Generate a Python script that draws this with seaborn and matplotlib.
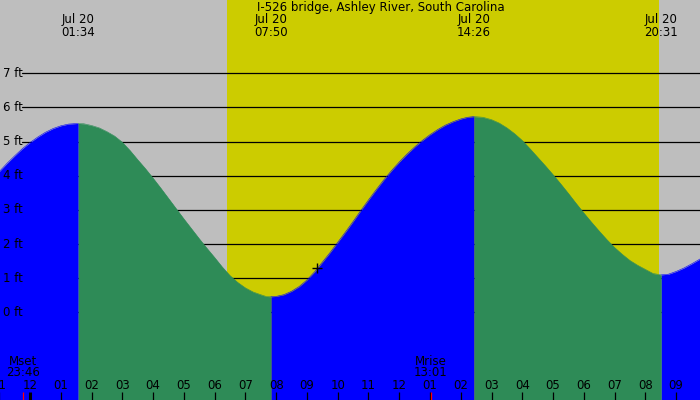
import numpy as np
import matplotlib
matplotlib.use("Agg")
import matplotlib.pyplot as plt
import pandas as pd
import seaborn as sns

# --- data (hours since midnight, feet) ---
title = "I-526 bridge, Ashley River, South Carolina"
date_label = "Jul 20"

extreme_times = ["01:34", "07:50", "14:26", "20:31"]

seg_hours = [
    [-1.0, -0.75, -0.5, -0.25, 0.0, 0.25, 0.5, 0.75, 1.0, 1.25, 1.567],
    [1.567, 1.75, 2.0, 2.25, 2.5, 2.75, 3.0, 3.25, 3.5, 3.75, 4.0, 4.25, 4.5, 4.75,
     5.0, 5.25, 5.5, 5.75, 6.0, 6.25, 6.5, 6.75, 7.0, 7.25, 7.5, 7.67, 7.833],
    [7.833, 8.0, 8.25, 8.5, 8.75, 9.0, 9.25, 9.5, 9.75, 10.0, 10.25, 10.5, 10.75,
     11.0, 11.25, 11.5, 11.75, 12.0, 12.25, 12.5, 12.75, 13.0, 13.25, 13.5, 13.75,
     14.0, 14.22, 14.433],
    [14.433, 14.72, 15.0, 15.25, 15.5, 15.75, 16.0, 16.25, 16.5, 16.75, 17.0, 17.25,
     17.5, 17.75, 18.0, 18.25, 18.5, 18.75, 19.0, 19.25, 19.5, 19.75, 20.0, 20.25, 20.517],
    [20.517, 20.75, 21.0, 21.25, 21.5, 21.75, 22.0],
]
seg_ft = [
    [4.12, 4.36, 4.58, 4.79, 4.97, 5.13, 5.27, 5.38, 5.46, 5.51, 5.53],
    [5.53, 5.52, 5.47, 5.40, 5.29, 5.16, 4.98, 4.74, 4.47, 4.21, 3.93, 3.64, 3.34, 3.04,
     2.74, 2.45, 2.16, 1.88, 1.61, 1.33, 1.08, 0.88, 0.72, 0.60, 0.52, 0.47, 0.46],
    [0.46, 0.47, 0.52, 0.62, 0.76, 0.95, 1.19, 1.47, 1.75, 2.05, 2.35, 2.66, 2.98,
     3.29, 3.59, 3.88, 4.15, 4.40, 4.63, 4.84, 5.03, 5.20, 5.35, 5.48, 5.58,
     5.66, 5.71, 5.73],
    [5.73, 5.71, 5.64, 5.54, 5.40, 5.23, 5.03, 4.79, 4.54, 4.29, 4.03, 3.76,
     3.48, 3.19, 2.91, 2.64, 2.38, 2.13, 1.90, 1.70, 1.52, 1.38, 1.26, 1.14, 1.10],
    [1.10, 1.12, 1.20, 1.30, 1.42, 1.55, 1.70],
]
seg_rising = [True, False, True, False, True]

sunrise, sunset = "06:25", "20:27"
moon_events = ["Mset", "Mrise"]
moon_times = ["23:46", "13:01"]
moon_hours = [-0.233, 13.017]

now_hour, now_ft = 9.32, 1.29

ft_levels = [0, 1, 2, 3, 4, 5, 6, 7]
ft_labels = ["0 ft", "1 ft", "2 ft", "3 ft", "4 ft", "5 ft", "6 ft", "7 ft"]

hour_ticks = list(range(-1, 22))
hour_labels = ["11", "12", "01", "02", "03", "04", "05", "06", "07", "08", "09", "10",
               "11", "12", "01", "02", "03", "04", "05", "06", "07", "08", "09"]


def to_hours(s):
    h, m = s.split(":")
    return int(h) + int(m) / 60


# --- style ---
sns.set_theme(style="white")
plt.rcParams["font.family"] = ["DejaVu Sans"]
plt.rcParams["text.color"] = "black"
fs = 8.5

GRAY = "#bebebe"
YELLOW = "#cccc00"
GREEN = "#2e8b57"
BLUE = "#0000ff"

fig = plt.figure(figsize=(7, 4), dpi=100, facecolor=GRAY)
ax = fig.add_axes([0, 0, 1, 1])
ax.axis("off")

# daylight
ax.axvspan(to_hours(sunrise), to_hours(sunset), color=YELLOW, lw=0, zorder=0)

# height grid lines
for lev in ft_levels:
    ax.axhline(lev, xmin=22 / 700, xmax=1, color="black", lw=0.9, zorder=1)

# tide fill, rising blue / falling green
for hrs, fts, up in zip(seg_hours, seg_ft, seg_rising):
    c = BLUE if up else GREEN
    ax.fill_between(hrs, -3, fts, color=c, lw=0, zorder=2)
    df = pd.DataFrame({"h": hrs, "ft": fts})
    sns.lineplot(data=df, x="h", y="ft", color=c, lw=0.4, ax=ax,
                 estimator=None, sort=False, zorder=2)
ax.set_xlim(-0.975, 21.775)
ax.set_ylim(-2.56, 9.14)
ax.axis("off")

# y labels
for lev, lab in zip(ft_levels, ft_labels):
    ax.text(-0.877, lev, lab, ha="left", va="center", fontsize=fs, zorder=3)

xt = ax.get_xaxis_transform()

# title and extreme labels
ax.text(11.4, 1 - 7.5 / 400, title, transform=xt, ha="center", va="center", fontsize=fs)
for s in extreme_times:
    t = to_hours(s)
    ax.text(t, 1 - 20 / 400, date_label, transform=xt, ha="center", va="center", fontsize=fs)
    ax.text(t, 1 - 32 / 400, s, transform=xt, ha="center", va="center", fontsize=fs)

# hour ticks
for h, lab in zip(hour_ticks, hour_labels):
    ax.text(h, 1 - 385.5 / 400, lab, transform=xt, ha="center", va="center", fontsize=fs)
    ax.vlines(h, 0, 8 / 400, transform=xt, color="black", lw=2.2 if h == 0 else 0.9, zorder=4)

# moon events
for name, s, mh in zip(moon_events, moon_times, moon_hours):
    ax.text(mh, 1 - 361.5 / 400, name, transform=xt, ha="center", va="center", fontsize=fs)
    ax.text(mh, 1 - 373 / 400, s, transform=xt, ha="center", va="center", fontsize=fs)
    ax.vlines(mh, 0, 8 / 400, transform=xt, color="red", lw=0.9, zorder=5)

# current time marker
ax.plot([now_hour], [now_ft], marker="+", color="black", ms=7, mew=1, zorder=6)

fig.savefig("out.png", dpi=100, facecolor=GRAY)
